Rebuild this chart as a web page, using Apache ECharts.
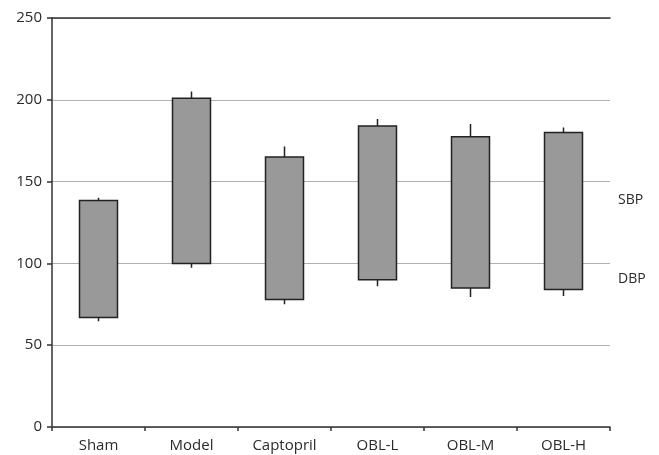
<!DOCTYPE html>
<html><head><meta charset="utf-8">
<script src="https://cdn.jsdelivr.net/npm/echarts@6/dist/echarts.min.js"></script>
<style>html,body{margin:0;padding:0;background:#fff}#c{width:659px;height:455px}</style>
</head><body><div id="c"></div>
<script>
const categories = ['Sham','Model','Captopril','OBL-L','OBL-M','OBL-H'];
const dbp = [67, 100, 78, 90, 85, 84];
const sbp = [138.4, 201, 165, 184, 177.4, 180];
const dbpLow = [64.6, 97.3, 75, 86.1, 79.5, 80.1];
const sbpHigh = [140.2, 205, 171.4, 188.2, 185.2, 183.1];
const yTicks = [0, 50, 100, 150, 200, 250];

const font = '"Open Sans", sans-serif';
const data = categories.map((c, i) => [dbp[i], sbp[i], dbpLow[i], sbpHigh[i]]);

const chart = echarts.init(document.getElementById('c'));
chart.setOption({
  animation: false,
  grid: { left: 52, right: 49, top: 18, bottom: 28 },
  xAxis: [{
    type: 'category', data: categories, boundaryGap: true,
    axisLine: { lineStyle: { color: '#333', width: 1.5 } },
    axisTick: { show: true, length: 4, inside: false, alignWithLabel: false, lineStyle: { color: '#333', width: 1.5 } },
    axisLabel: { color: '#2a2a2a', fontSize: 15, fontFamily: font, margin: 11 },
    splitLine: { show: false }
  }, {
    type: 'category', data: categories, position: 'top',
    axisLine: { show: true, lineStyle: { color: '#333', width: 1.5 } },
    axisTick: { show: false }, axisLabel: { show: false }, splitLine: { show: false }
  }],
  yAxis: {
    type: 'value', min: yTicks[0], max: yTicks[yTicks.length - 1], interval: 50,
    axisLine: { show: true, lineStyle: { color: '#333', width: 1.5 } },
    axisTick: { show: true, length: 5, lineStyle: { color: '#333', width: 1.5 } },
    axisLabel: { color: '#2a2a2a', fontSize: 15, fontFamily: font, margin: 10 },
    splitLine: { show: true, lineStyle: { color: '#b0b0b0', width: 1 } }
  },
  series: [{
    type: 'candlestick', data: data, barWidth: 38,
    itemStyle: { color: '#999999', color0: '#999999', borderColor: '#222', borderColor0: '#222', borderWidth: 1.5 }
  }],
  graphic: [
    { type: 'text', left: 618, top: 193, style: { text: 'SBP', fill: '#2a2a2a', font: '14px ' + font } },
    { type: 'text', left: 618, top: 272, style: { text: 'DBP', fill: '#2a2a2a', font: '14px ' + font } }
  ]
});
</script></body></html>
